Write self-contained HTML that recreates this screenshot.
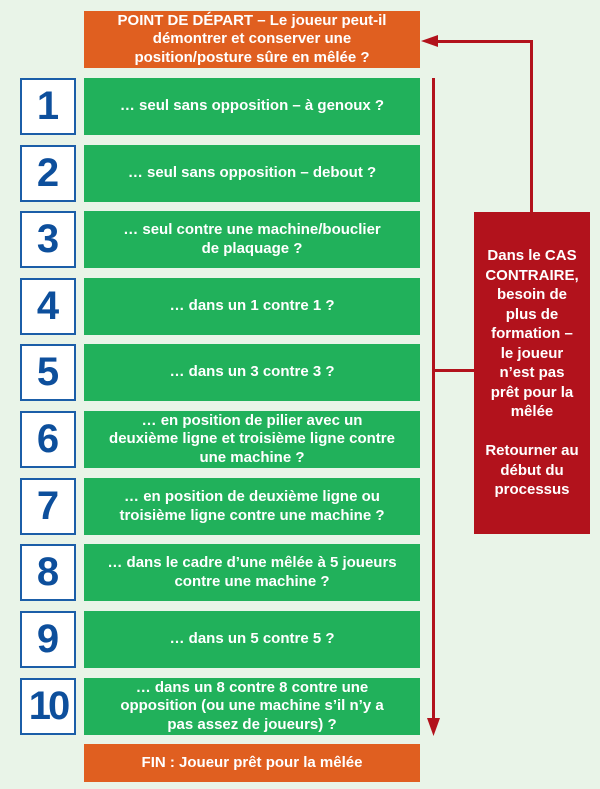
<!DOCTYPE html>
<html><head><meta charset="utf-8"><style>
body{margin:0;width:600px;height:789px;background:#e9f4e8;position:relative;overflow:hidden;font-family:"Liberation Sans",sans-serif;font-weight:bold}
.b{position:absolute;left:84px;width:336px;display:flex;align-items:center;justify-content:center;text-align:center;color:#fff;font-size:15px;line-height:18.5px}
.g{background:#21b15b;height:57px}
.o{background:#e05f20}
.n{position:absolute;left:20px;width:52px;height:53px;background:#fff;border:2px solid #1b5ea8;color:#0d4f9c;font-size:40px;display:flex;align-items:center;justify-content:center}
.r{position:absolute;background:#b2121c}
</style></head><body>
<div class="b o" style="top:11px;height:57px">POINT DE DÉPART – Le joueur peut-il<br>démontrer et conserver une<br>position/posture sûre en mêlée ?</div>
<div class="n" style="top:78px">1</div><div class="b g" style="top:78px">… seul sans opposition – à genoux ?</div>
<div class="n" style="top:145px">2</div><div class="b g" style="top:145px">… seul sans opposition – debout ?</div>
<div class="n" style="top:211px">3</div><div class="b g" style="top:211px">… seul contre une machine/bouclier<br>de plaquage ?</div>
<div class="n" style="top:278px">4</div><div class="b g" style="top:278px">… dans un 1 contre 1 ?</div>
<div class="n" style="top:344px">5</div><div class="b g" style="top:344px">… dans un 3 contre 3 ?</div>
<div class="n" style="top:411px">6</div><div class="b g" style="top:411px">… en position de pilier avec un<br>deuxième ligne et troisième ligne contre<br>une machine ?</div>
<div class="n" style="top:478px">7</div><div class="b g" style="top:478px">… en position de deuxième ligne ou<br>troisième ligne contre une machine ?</div>
<div class="n" style="top:544px">8</div><div class="b g" style="top:544px">… dans le cadre d’une mêlée à 5 joueurs<br>contre une machine ?</div>
<div class="n" style="top:611px">9</div><div class="b g" style="top:611px">… dans un 5 contre 5 ?</div>
<div class="n" style="top:678px;letter-spacing:-3px">10</div><div class="b g" style="top:678px">… dans un 8 contre 8 contre une<br>opposition (ou une machine s’il n’y a<br>pas assez de joueurs) ?</div>
<div class="b o" style="top:744px;height:38px">FIN : Joueur prêt pour la mêlée</div>
<div class="r" style="left:432px;top:78px;width:3px;height:645px"></div>
<svg style="position:absolute;left:0;top:0" width="600" height="789"><polygon points="427,718 440,718 433.5,736" fill="#b2121c"/><polygon points="421,41 438,35 438,47" fill="#b2121c"/></svg>
<div class="r" style="left:434px;top:369px;width:40px;height:3px"></div>
<div class="r" style="left:530px;top:40px;width:3px;height:172px"></div>
<div class="r" style="left:436px;top:40px;width:97px;height:3px"></div>
<div class="r" style="left:474px;top:212px;width:116px;height:322px;color:#fff;font-size:15px;line-height:19.5px;text-align:center;display:flex;align-items:center;justify-content:center">Dans le CAS<br>CONTRAIRE,<br>besoin de<br>plus de<br>formation –<br>le joueur<br>n’est pas<br>prêt pour la<br>mêlée<br><br>Retourner au<br>début du<br>processus</div>
</body></html>
